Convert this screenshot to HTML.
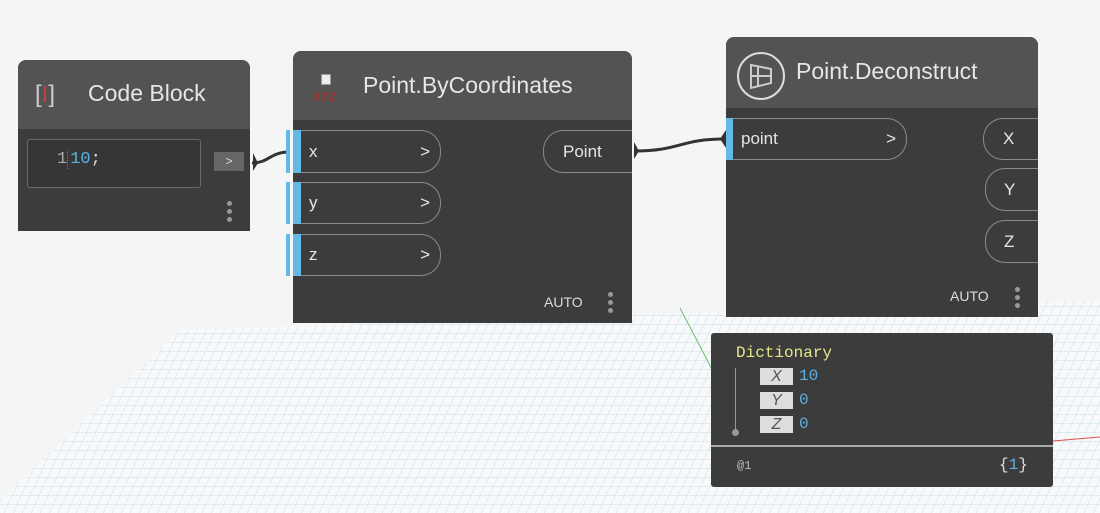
<!DOCTYPE html>
<html><head><meta charset="utf-8"><style>
*{margin:0;padding:0;box-sizing:border-box}
body{width:1100px;height:513px;overflow:hidden;background:#f5f5f5;position:relative;font-family:"Liberation Sans",sans-serif}
.abs{position:absolute}
.node{position:absolute;background:#3c3c3c;border-radius:8px 8px 0 0}
.hdr{position:absolute;left:0;top:0;right:0;background:#535353;border-radius:8px 8px 0 0}
.title{position:absolute;color:#e6e6e6;font-size:23px}
.pill{position:absolute;border:1px solid #8a8a8a;border-radius:0 20px 20px 0;border-left:none;color:#e6e6e6;font-size:17px}
.opill{position:absolute;border:1px solid #8a8a8a;border-radius:20px 0 0 20px;border-right:none;color:#e6e6e6;font-size:17px}
.blue{position:absolute;background:#64b8e6}
.dots{position:absolute;width:4px}
.dots i{display:block;width:5px;height:5px;border-radius:50%;background:#9a9a9a;margin-bottom:3px}
.mono{font-family:"Liberation Mono","DejaVu Sans Mono",monospace}
.key{position:absolute;width:33px;height:17px;background:#ddd;color:#555;font-style:italic;font-size:16px;text-align:center;line-height:17px;font-family:"Liberation Sans",sans-serif}
</style></head><body>
<svg class="abs" style="left:0;top:0" width="1100" height="513">
<defs>
<pattern id="g" width="9" height="9" patternUnits="userSpaceOnUse" patternTransform="skewX(-25)">
<rect width="9" height="9" fill="#f7f9fb"/>
<path d="M0 0H9M0 0V9" stroke="#c6dbe8" stroke-width="1"/>
</pattern>
</defs>
<polygon points="180,330 1100,300 1100,513 0,513 0,500" fill="url(#g)"/>
<line x1="680" y1="308" x2="715" y2="375" stroke="#6bbf6b" stroke-width="1"/>
<line x1="1053" y1="441" x2="1100" y2="437" stroke="#e05050" stroke-width="1"/>
<path d="M252 163 C 268 163, 270 153, 287 152" stroke="#333" stroke-width="3" fill="none"/>
<path d="M253 153 L258 163 L253 171 Z" fill="#333"/>
<path d="M634 151 C 680 151, 680 139, 724 139" stroke="#333" stroke-width="3" fill="none"/>
<path d="M634 142 L639 151 L634 159 Z" fill="#333"/>
<path d="M726 130 L720 139 L726 148 Z" fill="#333"/>
</svg>

<!-- Code Block -->
<div class="node" style="left:18px;top:60px;width:232px;height:171px;border-radius:8px 8px 0 0">
 <div class="hdr" style="height:69px"></div>
 <div class="title" style="left:17px;top:21px;font-size:24px;color:#ccc">[<span style="color:#c04040">I</span>]</div>
 <div class="title" style="left:70px;top:20px">Code Block</div>
 <div class="abs" style="left:9px;top:79px;width:174px;height:49px;border:1px solid #6a6a6a;border-radius:3px;background:#363636"></div>
 <div class="abs mono" style="left:39px;top:90px;font-size:17px;color:#aaa">1<span style="color:#5ab0e0;border-left:1px dotted #777;padding-left:2px">10</span><span style="color:#ddd">;</span></div>
 <div class="abs" style="left:196px;top:92px;width:30px;height:19px;background:#666;color:#ddd;font-size:12px;text-align:center;line-height:19px">&gt;</div>
 <div class="dots" style="left:209px;top:141px"><i></i><i></i><i></i></div>
</div>

<!-- Point.ByCoordinates -->
<div class="node" style="left:293px;top:51px;width:339px;height:272px">
 <div class="hdr" style="height:69px"></div>
 <div class="abs" style="left:28px;top:23px;width:10px;height:11px;background:#eee;border:1px solid #999"></div>
 <div class="abs" style="left:20px;top:39px;font-size:12px;font-weight:bold;color:#a33">XYZ</div>
 <div class="title" style="left:70px;top:21px">Point.ByCoordinates</div>
 <div class="opill" style="left:250px;top:79px;width:89px;height:43px;line-height:41px;padding-left:19px">Point</div>
 <div class="dots" style="left:315px;top:241px"><i></i><i></i><i></i></div>
 <div class="abs" style="left:251px;top:243px;font-size:14px;color:#ddd">AUTO</div>
</div>
<div class="blue" style="left:286px;top:130px;width:4px;height:43px"></div>
<div class="blue" style="left:286px;top:182px;width:4px;height:42px"></div>
<div class="blue" style="left:286px;top:234px;width:4px;height:42px"></div>
<div class="blue" style="left:293px;top:130px;width:8px;height:43px"></div>
<div class="blue" style="left:293px;top:182px;width:8px;height:42px"></div>
<div class="blue" style="left:293px;top:234px;width:8px;height:42px"></div>
<div class="pill" style="left:301px;top:130px;width:140px;height:43px;line-height:41px;padding-left:8px">x<span style="position:absolute;right:10px">&gt;</span></div>
<div class="pill" style="left:301px;top:182px;width:140px;height:42px;line-height:40px;padding-left:8px">y<span style="position:absolute;right:10px">&gt;</span></div>
<div class="pill" style="left:301px;top:234px;width:140px;height:42px;line-height:40px;padding-left:8px">z<span style="position:absolute;right:10px">&gt;</span></div>

<!-- Point.Deconstruct -->
<div class="node" style="left:726px;top:37px;width:312px;height:280px">
 <div class="hdr" style="height:71px"></div>
 <svg class="abs" style="left:10px;top:14px" width="50" height="50"><circle cx="25" cy="25" r="23" fill="none" stroke="#ddd" stroke-width="2"/><path d="M15 14 L35 18 L35 32 L15 37 Z M22 16 V35 M15 25 H35" stroke="#ccc" stroke-width="2" fill="none"/></svg>
 <div class="title" style="left:70px;top:21px">Point.Deconstruct</div>
 <div class="blue" style="left:0;top:81px;width:7px;height:42px"></div>
 <div class="pill" style="left:7px;top:81px;width:174px;height:42px;line-height:40px;padding-left:8px">point<span style="position:absolute;right:10px">&gt;</span></div>
 <div class="opill" style="left:257px;top:81px;width:55px;height:42px;line-height:40px;padding-left:19px">X</div>
 <div class="opill" style="left:259px;top:131px;width:53px;height:43px;line-height:41px;padding-left:18px">Y</div>
 <div class="opill" style="left:259px;top:183px;width:53px;height:43px;line-height:41px;padding-left:18px">Z</div>
 <div class="abs" style="left:224px;top:251px;font-size:14px;color:#ddd">AUTO</div>
 <div class="dots" style="left:289px;top:250px"><i></i><i></i><i></i></div>
</div>

<!-- Dictionary -->
<div class="abs mono" style="left:711px;top:333px;width:342px;height:154px;background:#3c3c3c;border-radius:3px">
 <div class="abs" style="left:25px;top:11px;font-size:16px;color:#e6e68c">Dictionary</div>
 <div class="abs" style="left:24px;top:35px;width:1px;height:63px;background:#999"></div>
 <div class="abs" style="left:21px;top:96px;width:7px;height:7px;border-radius:50%;background:#999"></div>
 <div class="key" style="left:49px;top:35px">X</div>
 <div class="key" style="left:49px;top:59px">Y</div>
 <div class="key" style="left:49px;top:83px">Z</div>
 <div class="abs" style="left:88px;top:34px;font-size:16px;color:#5ab0e0">10</div>
 <div class="abs" style="left:88px;top:58px;font-size:16px;color:#5ab0e0">0</div>
 <div class="abs" style="left:88px;top:82px;font-size:16px;color:#5ab0e0">0</div>
 <div class="abs" style="left:0;top:112px;width:342px;height:2px;background:#aaa"></div>
 <div class="abs" style="left:26px;top:126px;font-size:12px;color:#bbb">@1</div>
 <div class="abs" style="left:288px;top:123px;font-size:16px;color:#ddd">{<span style="color:#5ab0e0">1</span>}</div>
</div>
</body></html>
